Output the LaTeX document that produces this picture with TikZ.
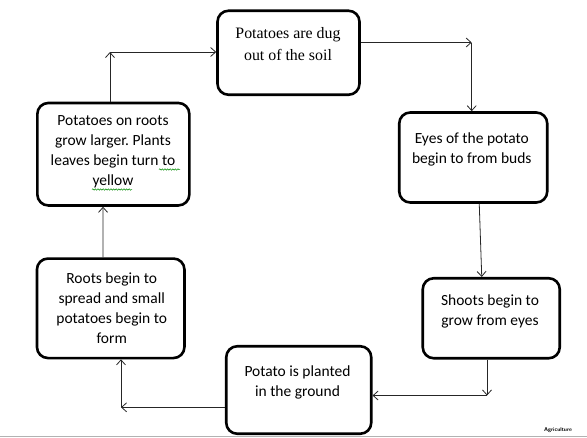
\documentclass[tikz,border=0pt]{standalone}
\usepackage{fontspec}
\setmainfont{Liberation Serif}
\newfontfamily\calibri{Carlito}
\usetikzlibrary{
    arrows.meta,
    calc,
    positioning,
    decorations.pathmorphing
}
\frenchspacing
\tikzset{stage/.style={draw=black, line width=2.6pt, rounded corners=11pt, inner sep=0pt}}
\tikzset{caltxt/.style={align=center, font=\calibri\fontsize{15.5}{20}\selectfont}}
\tikzset{timtxt/.style={align=center, font=\fontsize{15.9}{21.7}\selectfont}}
\tikzset{flow/.style={draw=black!85, line width=0.8pt, -{Straight Barb[length=5pt, width=9pt]}}}
\tikzset{spell/.style={draw=green!55!black, line width=0.5pt, decorate, decoration={snake, amplitude=0.7pt, segment length=2.6pt}}}
\begin{document}
\begin{tikzpicture}[x=1pt, y=-1pt]
    \useasboundingbox (0, 0) rectangle (587, 437);
    \draw[black!30, line width=1pt] (0, 436.5) -- (587, 436.5);

    % the six stages
    \node[stage, minimum width=142pt, minimum height=84pt] (dug) at (288.5, 52.75) {};
    \node[stage, minimum width=148pt, minimum height=90pt] (eyes) at (473.25, 157.5) {};
    \node[stage, minimum width=137pt, minimum height=80pt] (shoots) at (491.25, 318.25) {};
    \node[stage, minimum width=145pt, minimum height=87.5pt] (planted) at (298.75, 390) {};
    \node[stage, minimum width=147.5pt, minimum height=99.5pt] (roots) at (110.7, 308.3) {};
    \node[stage, minimum width=152pt, minimum height=102.5pt] (larger) at (113.35, 154.2) {};

    \node[timtxt] (dugtxt) at (288, 44) {Potatoes are dug\\out of the soil};
    \node[caltxt] (eyestxt) at (471.8, 149.3) {Eyes of the potato\\begin to from buds};
    \node[caltxt] (shootstxt) at (490, 311) {Shoots begin to\\grow from eyes};
    \node[caltxt] (plantedtxt) at (297.5, 382) {Potato is planted\\in the ground};
    \node[caltxt] (rootstxt) at (111.7, 308) {Roots begin to\\spread and small\\potatoes begin to\\form};
    \node[caltxt] (largertxt) at (113, 152) {Potatoes on roots\\grow larger. Plants\\leaves begin turn to\\yellow};

    \draw[spell] (159, 169.5) -- (180, 169.5);
    \draw[spell] (92, 189.5) -- (132, 189.5);

    % corners of the cycle
    \coordinate (c1) at (110, 52);
    \coordinate (c2) at (471.7, 42.5);
    \coordinate (c4) at (487, 395.5);
    \coordinate (c5) at (121, 407.3);

    \draw[flow] (larger.north -| c1) -- (c1);
    \draw[flow] (c1) -- (c1 -| dug.west);
    \draw[flow] (c2 -| dug.east) -- (c2);
    \draw[flow] (c2) -- (c2 |- eyes.north);
    \draw[flow] ([xshift=6pt]eyes.south) -- ([xshift=-9.5pt]shoots.north);
    \draw[flow] (shoots.south -| c4) -- (c4);
    \draw[flow] (c4) -- (c4 -| planted.east);
    \draw[flow] (c5 -| planted.west) -- (c5);
    \draw[flow] (c5) -- (c5 |- roots.south);
    \draw[flow] ([xshift=-7.7pt]roots.north) -- ([xshift=-10.3pt]larger.south);

    \node[font=\sffamily\bfseries\fontsize{5.5}{6}\selectfont] (tag) at (558, 430.5) {Agriculture};
\end{tikzpicture}
\end{document}
